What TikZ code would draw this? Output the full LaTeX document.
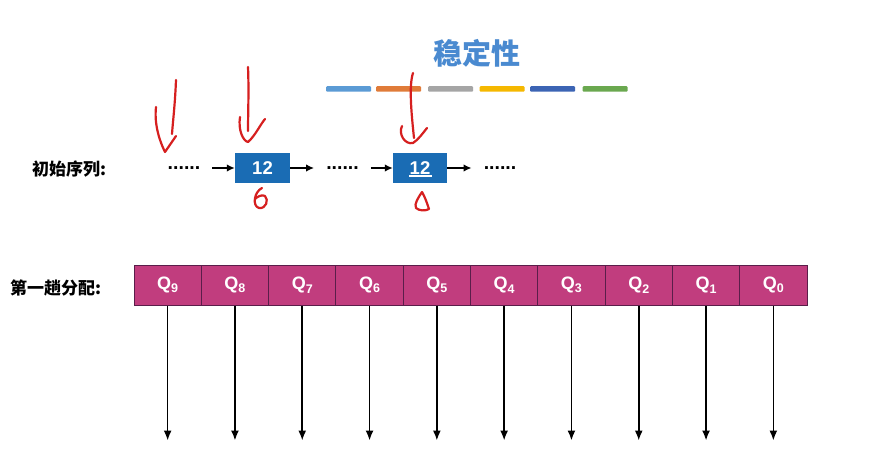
\documentclass[tikz,border=0pt]{standalone}
\usepackage{fontspec}
\setmainfont{Liberation Sans}
\newfontfamily\cjk{Noto Sans CJK SC}
\usetikzlibrary{arrows.meta}
\definecolor{titleblue}{HTML}{4A8AD0}
\definecolor{boxblue}{HTML}{1A6CB4}
\definecolor{magbar}{HTML}{C13D7E}
\definecolor{magline}{HTML}{5A1E4A}
\definecolor{cA}{HTML}{5B9BD5}
\definecolor{cB}{HTML}{E07B39}
\definecolor{cC}{HTML}{A5A5A5}
\definecolor{cD}{HTML}{F5B800}
\definecolor{cE}{HTML}{3C64B4}
\definecolor{cF}{HTML}{6AA84F}
\definecolor{pen}{HTML}{D61F1F}
\tikzset{
  colbar/.style={rectangle, minimum width=45pt, minimum height=5.5pt, inner sep=0pt, rounded corners=1pt},
  lab/.style={font=\cjk\bfseries\fontsize{17}{17}\selectfont, anchor=west, inner sep=0pt},
  numbox/.style={rectangle, fill=boxblue, text=white, minimum width=55pt, minimum height=30pt, inner sep=0pt, font=\bfseries\fontsize{18.5}{18.5}\selectfont},
  dotsnode/.style={inner xsep=12pt, inner ysep=0pt, font=\bfseries\fontsize{19.5}{19.5}\selectfont},
  arr/.style={-{Latex[length=8pt,width=7.5pt]}, line width=1.5pt, black},
  qcell/.style={rectangle, fill=magbar, draw=magline, line width=1pt, minimum width=67.3pt, minimum height=40pt, inner sep=0pt, text=white, font=\bfseries\fontsize{18}{18}\selectfont},
  darr/.style={-{Latex[length=10pt,width=8pt]}, line width=1.6pt, black},
  penline/.style={pen, line width=2.2pt, line cap=round, line join=round}
}
\begin{document}
\begin{tikzpicture}[x=1pt,y=-1pt]
\useasboundingbox[fill=white] (0,0) rectangle (872,470);

% title
\node[font=\cjk\bfseries\fontsize{29}{29}\selectfont, text=titleblue] (title) at (477,53) {稳定性};

% colour bars
\node[colbar, fill=cA] (b1) at (348.5,89) {};
\node[colbar, fill=cB] (b2) at (398.5,89) {};
\node[colbar, fill=cC] (b3) at (450.5,89) {};
\node[colbar, fill=cD] (b4) at (502,89) {};
\node[colbar, fill=cE] (b5) at (552.5,89) {};
\node[colbar, fill=cF] (b6) at (605,89) {};

% initial sequence
\node[lab] (l1) at (32,169) {初始序列:};
\node[dotsnode] (d1) at (184,168) {......};
\node[numbox] (n1) at (262.5,168) {12};
\node[dotsnode] (d2) at (342.5,168) {......};
\node[numbox, minimum width=54pt] (n2) at (420,168) {12};
\node[dotsnode] (d3) at (500,168) {......};
\draw[white, line width=1.6pt] (409,176) -- (432,176);

\draw[arr] (d1) -- (n1);
\draw[arr] (n1) -- (d2);
\draw[arr] (d2) -- (n2);
\draw[arr] (n2) -- (d3);

% first distribution
\node[lab] (l2) at (10,288) {第一趟分配:};
\foreach \i in {0,...,9} {
  \node[qcell] (q\i) at ({134+67.3*(9-\i)+33.65},285)
    {Q{\fontsize{12.5}{12.5}\selectfont\raisebox{-3.5pt}{\i}}};
  \path (q\i.south) ++(0,135) coordinate (e\i);
  \draw[darr] (q\i.south) -- (e\i);
}

% red handwritten annotations
\draw[penline] (176,80) .. controls (175,105) and (173,120) .. (172,134);
\draw[penline] (156,107) .. controls (154,125) and (160,142) .. (165,152) -- (176,136);
\draw[penline] (248,67) .. controls (249,90) and (248,115) .. (248,131);
\draw[penline] (240,117) .. controls (238,130) and (243,141) .. (248,142) .. controls (255,136) and (260,125) .. (265,119);
\draw[penline] (413,73) .. controls (409,85) and (411,110) .. (414,138);
\draw[penline] (402,126) .. controls (398,134) and (405,145) .. (413,143) .. controls (418,140) and (423,133) .. (427,128);
\draw[penline] (262,188) .. controls (254,192) and (252,206) .. (259,208) .. controls (266,209) and (269,200) .. (265,196) .. controls (262,194) and (257,197) .. (255,199);
\draw[penline] (422,192) .. controls (418,198) and (414,204) .. (416,208) .. controls (419,211) and (426,211) .. (429,209) .. controls (427,203) and (425,197) .. (422,192);
\end{tikzpicture}
\end{document}
